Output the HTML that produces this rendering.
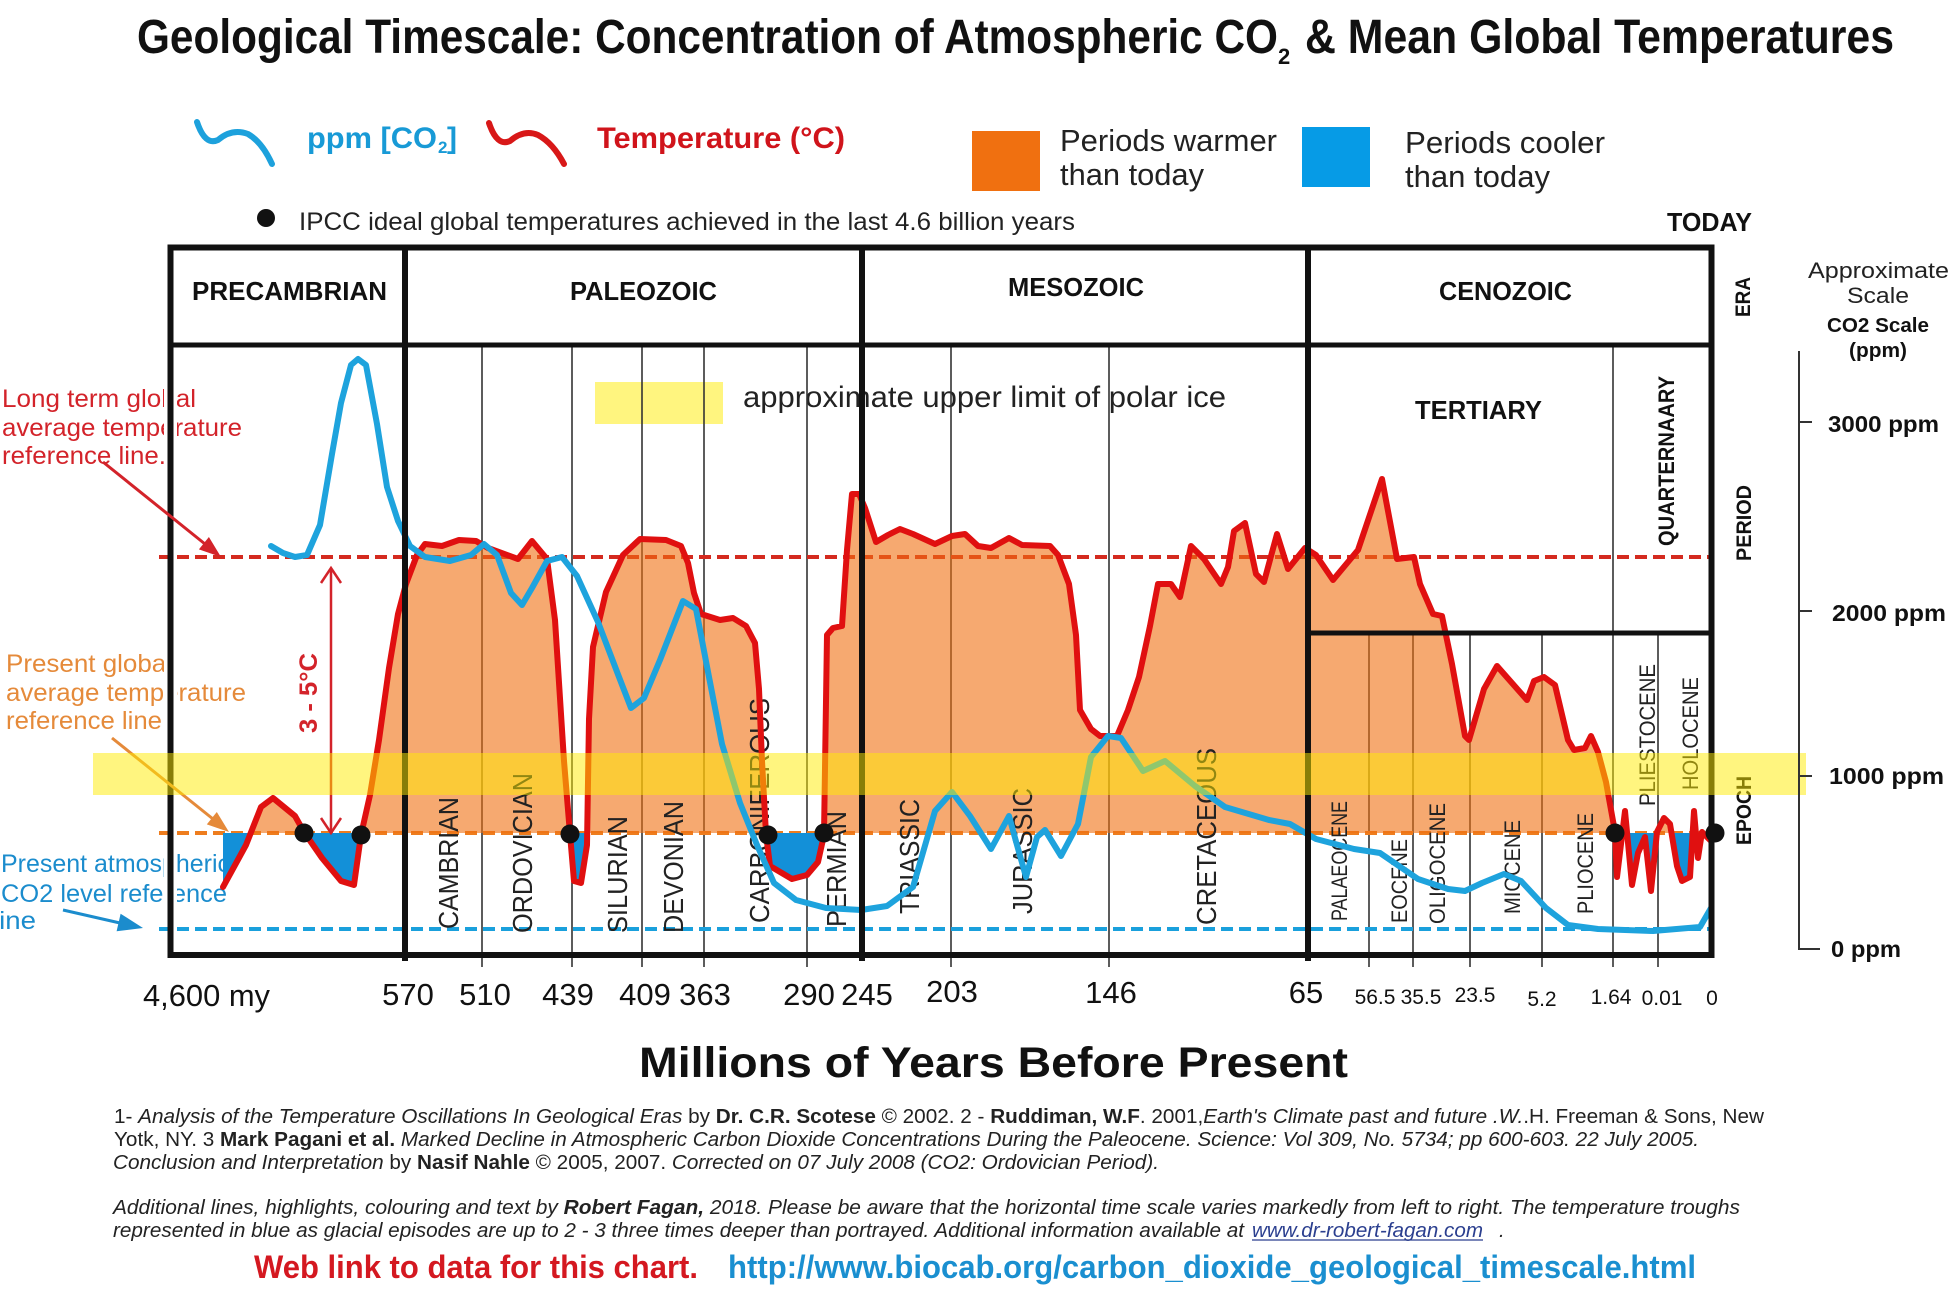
<!DOCTYPE html>
<html><head><meta charset="utf-8"><style>html,body{margin:0;padding:0;background:#fff;}svg{display:block}</style></head>
<body>
<svg width="1960" height="1294" viewBox="0 0 1960 1294" xmlns="http://www.w3.org/2000/svg" font-family="'Liberation Sans', Arial, sans-serif">
<defs>
<clipPath id="above"><rect x="0" y="0" width="1960" height="833"/></clipPath>
<clipPath id="below"><rect x="0" y="833" width="1960" height="200"/></clipPath>
</defs>
<rect width="1960" height="1294" fill="#fff"/>

<!-- Title -->
<text x="137" y="53" font-size="48" font-weight="bold" fill="#111" textLength="1141" lengthAdjust="spacingAndGlyphs">Geological Timescale: Concentration of Atmospheric CO</text>
<text x="1278" y="64" font-size="22" font-weight="bold" fill="#111">2</text>
<text x="1305" y="53" font-size="48" font-weight="bold" fill="#111" textLength="589" lengthAdjust="spacingAndGlyphs">&amp; Mean Global Temperatures</text>

<!-- Legend -->
<path d="M197,122 Q205,146 218,140 Q232,128 248,134 Q262,142 272,164" fill="none" stroke="#1da1dc" stroke-width="6" stroke-linecap="round"/>
<text x="307" y="148" font-size="30" font-weight="bold" fill="#189ad6" textLength="130" lengthAdjust="spacingAndGlyphs">ppm [CO</text>
<text x="438" y="153" font-size="17" font-weight="bold" fill="#189ad6">2</text>
<text x="447" y="148" font-size="30" font-weight="bold" fill="#189ad6">]</text>
<path d="M489,123 Q497,147 510,141 Q524,129 538,135 Q553,143 564,164" fill="none" stroke="#d81818" stroke-width="6" stroke-linecap="round"/>
<text x="597" y="148" font-size="30" font-weight="bold" fill="#d0141b" textLength="248" lengthAdjust="spacingAndGlyphs">Temperature (°C)</text>

<rect x="972" y="131" width="68" height="60" fill="#f07010"/>
<text x="1060" y="151" font-size="31" fill="#222" textLength="217" lengthAdjust="spacingAndGlyphs">Periods warmer</text>
<text x="1060" y="185" font-size="31" fill="#222" textLength="144" lengthAdjust="spacingAndGlyphs">than today</text>
<rect x="1302" y="127" width="68" height="60" fill="#069be6"/>
<text x="1405" y="153" font-size="31" fill="#222" textLength="200" lengthAdjust="spacingAndGlyphs">Periods cooler</text>
<text x="1405" y="187" font-size="31" fill="#222" textLength="145" lengthAdjust="spacingAndGlyphs">than today</text>

<circle cx="266" cy="218" r="9" fill="#111"/>
<text x="299" y="230" font-size="25" fill="#222" textLength="776" lengthAdjust="spacingAndGlyphs">IPCC ideal global temperatures achieved in the last 4.6 billion years</text>
<text x="1667" y="231" font-size="26" font-weight="bold" fill="#111" textLength="85" lengthAdjust="spacingAndGlyphs">TODAY</text>

<!-- Left annotations -->
<text x="2" y="407" font-size="25" fill="#d3232a" textLength="194" lengthAdjust="spacingAndGlyphs">Long term global</text>
<text x="2" y="436" font-size="25" fill="#d3232a" textLength="240" lengthAdjust="spacingAndGlyphs">average temperature</text>
<text x="2" y="464" font-size="25" fill="#d3232a" textLength="164" lengthAdjust="spacingAndGlyphs">reference line.</text>
<text x="6" y="672" font-size="25" fill="#e58a3a" textLength="166" lengthAdjust="spacingAndGlyphs">Present global</text>
<text x="6" y="701" font-size="25" fill="#e58a3a" textLength="240" lengthAdjust="spacingAndGlyphs">average temperature</text>
<text x="6" y="729" font-size="25" fill="#e58a3a" textLength="156" lengthAdjust="spacingAndGlyphs">reference line</text>
<text x="1" y="872" font-size="25" fill="#1b8ccd" textLength="229" lengthAdjust="spacingAndGlyphs">Present atmospheric</text>
<text x="1" y="902" font-size="25" fill="#1b8ccd" textLength="226" lengthAdjust="spacingAndGlyphs">CO2 level reference</text>
<text x="-7" y="929" font-size="25" fill="#1b8ccd" textLength="43" lengthAdjust="spacingAndGlyphs">line</text>

<!-- polar ice legend -->
<rect x="595" y="382" width="128" height="42" fill="#ffec00" opacity="0.5"/>
<text x="743" y="407" font-size="30" fill="#222" textLength="483" lengthAdjust="spacingAndGlyphs">approximate upper limit of polar ice</text>

<!-- thin grid lines -->
<g stroke="#333" stroke-width="1.6">
<line x1="482" y1="345" x2="482" y2="967"/>
<line x1="572" y1="345" x2="572" y2="967"/>
<line x1="642" y1="345" x2="642" y2="967"/>
<line x1="704" y1="345" x2="704" y2="967"/>
<line x1="807" y1="345" x2="807" y2="967"/>
<line x1="951" y1="345" x2="951" y2="967"/>
<line x1="1109" y1="345" x2="1109" y2="967"/>
<line x1="1613" y1="345" x2="1613" y2="967"/>
<line x1="1369" y1="633" x2="1369" y2="967"/>
<line x1="1413" y1="633" x2="1413" y2="967"/>
<line x1="1470" y1="633" x2="1470" y2="967"/>
<line x1="1542" y1="633" x2="1542" y2="967"/>
<line x1="1658" y1="633" x2="1658" y2="967"/>
</g>

<!-- dashed reference lines -->
<line x1="159" y1="557" x2="1709" y2="557" stroke="#d42a1f" stroke-width="4" stroke-dasharray="12 6"/>
<line x1="159" y1="833" x2="1709" y2="833" stroke="#ee7d1e" stroke-width="4" stroke-dasharray="12 6"/>
<line x1="159" y1="929" x2="1709" y2="929" stroke="#1aa0dc" stroke-width="4" stroke-dasharray="12 6"/>

<!-- fills -->
<polygon clip-path="url(#above)" fill="#f07010" fill-opacity="0.6" points="223,833 223,887 246,845 261,807 273,798 295,816 304,832 322,858 341,881 354,885 361,835 370,795 379,740 389,668 398,614 406,584 417,555 425,544 442,546 459,540 476,541 488,548 518,559 532,541 547,559 555,620 564,761 570,834 574,881 581,883 587,845 589,719 593,647 606,592 623,555 640,539 666,540 681,546 688,563 694,593 701,614 720,620 733,618 746,626 755,643 759,689 762,761 766,834 770,866 792,879 807,875 818,862 824,835 827,635 833,628 842,626 847,550 852,494 859,494 865,508 876,542 888,535 900,529 913,534 935,544 952,536 965,534 978,546 991,548 1009,538 1022,545 1050,546 1058,555 1069,584 1076,635 1080,710 1091,729 1100,736 1117,736 1128,710 1139,677 1150,626 1158,584 1171,584 1180,597 1191,546 1204,559 1221,584 1228,567 1234,531 1245,523 1256,574 1264,582 1277,534 1288,569 1305,548 1316,555 1333,580 1358,550 1382,479 1397,559 1414,557 1420,584 1433,614 1442,616 1452,664 1465,736 1469,740 1484,689 1497,666 1527,700 1534,681 1544,677 1555,685 1568,740 1574,750 1585,748 1591,736 1598,752 1606,782 1615,832 1617,877 1625,811 1632,885 1638,853 1645,837 1651,891 1657,832 1664,818 1670,824 1677,866 1682,881 1690,877 1694,811 1698,858 1702,832 1711,841 1711,833"/>
<polygon clip-path="url(#below)" fill="#1390d8" points="223,833 223,887 246,845 261,807 273,798 295,816 304,832 322,858 341,881 354,885 361,835 370,795 379,740 389,668 398,614 406,584 417,555 425,544 442,546 459,540 476,541 488,548 518,559 532,541 547,559 555,620 564,761 570,834 574,881 581,883 587,845 589,719 593,647 606,592 623,555 640,539 666,540 681,546 688,563 694,593 701,614 720,620 733,618 746,626 755,643 759,689 762,761 766,834 770,866 792,879 807,875 818,862 824,835 827,635 833,628 842,626 847,550 852,494 859,494 865,508 876,542 888,535 900,529 913,534 935,544 952,536 965,534 978,546 991,548 1009,538 1022,545 1050,546 1058,555 1069,584 1076,635 1080,710 1091,729 1100,736 1117,736 1128,710 1139,677 1150,626 1158,584 1171,584 1180,597 1191,546 1204,559 1221,584 1228,567 1234,531 1245,523 1256,574 1264,582 1277,534 1288,569 1305,548 1316,555 1333,580 1358,550 1382,479 1397,559 1414,557 1420,584 1433,614 1442,616 1452,664 1465,736 1469,740 1484,689 1497,666 1527,700 1534,681 1544,677 1555,685 1568,740 1574,750 1585,748 1591,736 1598,752 1606,782 1615,832 1617,877 1625,811 1632,885 1638,853 1645,837 1651,891 1657,832 1664,818 1670,824 1677,866 1682,881 1690,877 1694,811 1698,858 1702,832 1711,841 1711,833"/>

<!-- period labels -->
<g font-size="28" fill="#222">
<text transform="translate(458,929) rotate(-90)" textLength="132" lengthAdjust="spacingAndGlyphs">CAMBRIAN</text>
<text transform="translate(532,933) rotate(-90)" textLength="160" lengthAdjust="spacingAndGlyphs">ORDOVICIAN</text>
<text transform="translate(627,933) rotate(-90)" textLength="117" lengthAdjust="spacingAndGlyphs">SILURIAN</text>
<text transform="translate(683,933) rotate(-90)" textLength="132" lengthAdjust="spacingAndGlyphs">DEVONIAN</text>
<text transform="translate(769,923) rotate(-90)" textLength="225" lengthAdjust="spacingAndGlyphs">CARBONIFEROUS</text>
<text transform="translate(846,927) rotate(-90)" textLength="116" lengthAdjust="spacingAndGlyphs">PERMIAN</text>
<text transform="translate(919,914) rotate(-90)" textLength="115" lengthAdjust="spacingAndGlyphs">TRIASSIC</text>
<text transform="translate(1032,914) rotate(-90)" textLength="126" lengthAdjust="spacingAndGlyphs">JURASSIC</text>
<text transform="translate(1216,925) rotate(-90)" textLength="177" lengthAdjust="spacingAndGlyphs">CRETACEOUS</text>
</g>
<g font-size="22" fill="#222">
<text transform="translate(1347,921) rotate(-90)" textLength="120" lengthAdjust="spacingAndGlyphs">PALAEOCENE</text>
<text transform="translate(1407,923) rotate(-90)" textLength="84" lengthAdjust="spacingAndGlyphs">EOCENE</text>
<text transform="translate(1445,924) rotate(-90)" textLength="121" lengthAdjust="spacingAndGlyphs">OLIGOCENE</text>
<text transform="translate(1520,914) rotate(-90)" textLength="94" lengthAdjust="spacingAndGlyphs">MIOCENE</text>
<text transform="translate(1593,914) rotate(-90)" textLength="101" lengthAdjust="spacingAndGlyphs">PLIOCENE</text>
<text transform="translate(1655,806) rotate(-90)" textLength="142" lengthAdjust="spacingAndGlyphs">PLIESTOCENE</text>
<text transform="translate(1698,790) rotate(-90)" textLength="113" lengthAdjust="spacingAndGlyphs">HOLOCENE</text>
</g>

<!-- temperature curve -->
<polyline fill="none" stroke="#e01010" stroke-width="6" stroke-linejoin="round" stroke-linecap="round" points="223,887 246,845 261,807 273,798 295,816 304,832 322,858 341,881 354,885 361,835 370,795 379,740 389,668 398,614 406,584 417,555 425,544 442,546 459,540 476,541 488,548 518,559 532,541 547,559 555,620 564,761 570,834 574,881 581,883 587,845 589,719 593,647 606,592 623,555 640,539 666,540 681,546 688,563 694,593 701,614 720,620 733,618 746,626 755,643 759,689 762,761 766,834 770,866 792,879 807,875 818,862 824,835 827,635 833,628 842,626 847,550 852,494 859,494 865,508 876,542 888,535 900,529 913,534 935,544 952,536 965,534 978,546 991,548 1009,538 1022,545 1050,546 1058,555 1069,584 1076,635 1080,710 1091,729 1100,736 1117,736 1128,710 1139,677 1150,626 1158,584 1171,584 1180,597 1191,546 1204,559 1221,584 1228,567 1234,531 1245,523 1256,574 1264,582 1277,534 1288,569 1305,548 1316,555 1333,580 1358,550 1382,479 1397,559 1414,557 1420,584 1433,614 1442,616 1452,664 1465,736 1469,740 1484,689 1497,666 1527,700 1534,681 1544,677 1555,685 1568,740 1574,750 1585,748 1591,736 1598,752 1606,782 1615,832 1617,877 1625,811 1632,885 1638,853 1645,837 1651,891 1657,832 1664,818 1670,824 1677,866 1682,881 1690,877 1694,811 1698,858 1702,832 1711,841"/>

<!-- CO2 curve -->
<polyline fill="none" stroke="#1ea3dd" stroke-width="6" stroke-linejoin="round" stroke-linecap="round" points="271,546 283,553 295,557 307,555 320,525 332,454 341,403 351,365 358,359 366,365 377,424 387,487 398,521 410,546 425,557 450,561 471,555 484,544 497,555 511,593 522,605 532,588 547,561 562,557 577,576 598,622 619,677 631,708 644,698 660,660 683,601 696,609 709,677 722,744 740,803 757,845 774,883 796,900 826,908 861,910 887,906 913,887 935,811 952,792 970,816 991,849 1009,816 1017,845 1026,877 1037,837 1045,830 1061,856 1078,824 1091,757 1108,736 1121,738 1143,771 1165,761 1195,786 1225,807 1269,820 1290,824 1316,839 1354,849 1380,853 1418,879 1448,889 1465,891 1482,883 1504,874 1521,881 1546,908 1568,925 1598,929 1653,931 1700,927 1711,908"/>

<!-- white halos for left border -->
<rect x="164" y="385" width="13" height="85" fill="#fff"/>
<rect x="164" y="650" width="13" height="85" fill="#fff"/>
<rect x="164" y="850" width="13" height="70" fill="#fff"/>

<!-- table structure -->
<rect x="170.5" y="247.5" width="1541" height="707.5" fill="none" stroke="#111" stroke-width="6"/>
<line x1="170" y1="345" x2="1712" y2="345" stroke="#111" stroke-width="5"/>
<line x1="1308" y1="633" x2="1712" y2="633" stroke="#111" stroke-width="5"/>
<line x1="405" y1="247" x2="405" y2="961" stroke="#111" stroke-width="6"/>
<line x1="862" y1="247" x2="862" y2="961" stroke="#111" stroke-width="6"/>
<line x1="1308" y1="247" x2="1308" y2="961" stroke="#111" stroke-width="6"/>

<!-- Era labels -->
<g font-size="26" font-weight="bold" fill="#111">
<text x="192" y="300" textLength="195" lengthAdjust="spacingAndGlyphs">PRECAMBRIAN</text>
<text x="570" y="300" textLength="147" lengthAdjust="spacingAndGlyphs">PALEOZOIC</text>
<text x="1008" y="296" textLength="136" lengthAdjust="spacingAndGlyphs">MESOZOIC</text>
<text x="1439" y="300" textLength="133" lengthAdjust="spacingAndGlyphs">CENOZOIC</text>
<text x="1415" y="419" textLength="127" lengthAdjust="spacingAndGlyphs">TERTIARY</text>
</g>
<text transform="translate(1674,546) rotate(-90)" font-size="22" font-weight="bold" fill="#111" textLength="170" lengthAdjust="spacingAndGlyphs">QUARTERNAARY</text>
<g font-size="21" font-weight="bold" fill="#111">
<text transform="translate(1750,317) rotate(-90)" textLength="40" lengthAdjust="spacingAndGlyphs">ERA</text>
<text transform="translate(1751,561) rotate(-90)" textLength="76" lengthAdjust="spacingAndGlyphs">PERIOD</text>
<text transform="translate(1751,845) rotate(-90)" textLength="69" lengthAdjust="spacingAndGlyphs">EPOCH</text>
</g>

<!-- arrows -->
<line x1="103" y1="462" x2="205" y2="544" stroke="#d3232a" stroke-width="3"/>
<polygon points="221,557 198.9,549.4 208.9,537.0" fill="#d3232a"/>
<line x1="112" y1="738" x2="213" y2="819" stroke="#e58a3a" stroke-width="3"/>
<polygon points="229,832 206.8,824.4 216.8,812.0" fill="#e58a3a"/>
<line x1="63" y1="910" x2="120" y2="923" stroke="#1b8ccd" stroke-width="3"/>
<polygon points="143,928 116.6,931.3 120.6,913.7" fill="#1b8ccd"/>

<!-- 3-5 C -->
<line x1="331" y1="568" x2="331" y2="833" stroke="#d3232a" stroke-width="2.5"/>
<path d="M321,583 L331,568 L341,583 M321,818 L331,833 L341,818" fill="none" stroke="#d3232a" stroke-width="2.5"/>
<text transform="translate(317,733) rotate(-90)" font-size="25" font-weight="bold" fill="#d3232a" textLength="80" lengthAdjust="spacingAndGlyphs">3 - 5°C</text>

<!-- yellow band -->
<rect x="93" y="753" width="1713" height="42" fill="#ffec00" opacity="0.5"/>

<!-- dots -->
<g fill="#111">
<circle cx="304" cy="833" r="9.5"/>
<circle cx="361" cy="835" r="9.5"/>
<circle cx="570" cy="834" r="9.5"/>
<circle cx="768" cy="835" r="9.5"/>
<circle cx="824" cy="833" r="9.5"/>
<circle cx="1615" cy="833" r="9.5"/>
<circle cx="1715" cy="833" r="9.5"/>
</g>

<!-- right scale -->
<path d="M1799,351 L1799,949 L1820,949 M1799,422 h13 M1799,611 h13 M1799,776 h13" fill="none" stroke="#333" stroke-width="2"/>
<text x="1808" y="278" font-size="22" fill="#222" textLength="141" lengthAdjust="spacingAndGlyphs">Approximate</text>
<text x="1847" y="303" font-size="22" fill="#222" textLength="62" lengthAdjust="spacingAndGlyphs">Scale</text>
<text x="1827" y="332" font-size="20" font-weight="bold" fill="#111" textLength="102" lengthAdjust="spacingAndGlyphs">CO2 Scale</text>
<text x="1849" y="357" font-size="20" font-weight="bold" fill="#111" textLength="58" lengthAdjust="spacingAndGlyphs">(ppm)</text>
<g font-size="23" font-weight="bold" fill="#111">
<text x="1828" y="432" textLength="111" lengthAdjust="spacingAndGlyphs">3000 ppm</text>
<text x="1832" y="621" textLength="114" lengthAdjust="spacingAndGlyphs">2000 ppm</text>
<text x="1829" y="784" textLength="115" lengthAdjust="spacingAndGlyphs">1000 ppm</text>
<text x="1831" y="957" textLength="70" lengthAdjust="spacingAndGlyphs">0 ppm</text>
</g>

<!-- bottom axis labels -->
<g font-size="31" fill="#111" text-anchor="middle">
<text x="408" y="1005">570</text>
<text x="485" y="1005">510</text>
<text x="568" y="1005">439</text>
<text x="645" y="1005">409</text>
<text x="705" y="1005">363</text>
<text x="809" y="1005">290</text>
<text x="867" y="1005">245</text>
<text x="952" y="1002">203</text>
<text x="1111" y="1003">146</text>
<text x="1306" y="1003">65</text>
</g>
<text x="143" y="1006" font-size="31" fill="#111" textLength="127" lengthAdjust="spacingAndGlyphs">4,600 my</text>
<g font-size="21" fill="#111" text-anchor="middle">
<text x="1375" y="1004">56.5</text>
<text x="1421" y="1004">35.5</text>
<text x="1475" y="1002">23.5</text>
<text x="1542" y="1006">5.2</text>
<text x="1611" y="1004">1.64</text>
<text x="1662" y="1005">0.01</text>
<text x="1712" y="1005">0</text>
</g>
<text x="639" y="1077" font-size="43" font-weight="bold" fill="#111" textLength="709" lengthAdjust="spacingAndGlyphs">Millions of Years Before Present</text>

<!-- footnotes -->
<g font-size="20" fill="#222">
<text x="114" y="1123" textLength="1650" lengthAdjust="spacingAndGlyphs">1- <tspan font-style="italic">Analysis of the Temperature Oscillations In Geological Eras</tspan> by <tspan font-weight="bold">Dr. C.R. Scotese</tspan> © 2002. 2 - <tspan font-weight="bold">Ruddiman, W.F</tspan>. 2001,<tspan font-style="italic">Earth's Climate past and future .W.</tspan>.H. Freeman &amp; Sons, New</text>
<text x="114" y="1146" textLength="1585" lengthAdjust="spacingAndGlyphs">Yotk, NY. 3 <tspan font-weight="bold">Mark Pagani et al.</tspan> <tspan font-style="italic">Marked Decline in Atmospheric Carbon Dioxide Concentrations During the Paleocene. Science: Vol 309, No. 5734; pp 600-603. 22 July 2005.</tspan></text>
<text x="113" y="1169" textLength="1046" lengthAdjust="spacingAndGlyphs"><tspan font-style="italic">Conclusion and Interpretation</tspan> by <tspan font-weight="bold">Nasif Nahle</tspan> © 2005, 2007. <tspan font-style="italic">Corrected on 07 July 2008 (CO2: Ordovician Period).</tspan></text>
<text x="113" y="1214" font-style="italic" textLength="1627" lengthAdjust="spacingAndGlyphs">Additional lines, highlights, colouring and text by <tspan font-weight="bold">Robert Fagan,</tspan> 2018.  Please be aware that the horizontal time scale varies markedly from left to right.  The temperature troughs</text>
<text x="113" y="1237" font-style="italic" textLength="1131" lengthAdjust="spacingAndGlyphs">represented in blue as glacial episodes are up to 2 - 3 three times deeper than portrayed. Additional information available at</text>
<text x="1252" y="1237" font-style="italic" fill="#2b3f8f" textLength="231" lengthAdjust="spacingAndGlyphs">www.dr-robert-fagan.com</text>
<line x1="1252" y1="1240" x2="1483" y2="1240" stroke="#2b3f8f" stroke-width="1.2"/>
<text x="1499" y="1237" font-style="italic">.</text>
</g>
<text x="254" y="1278" font-size="32" font-weight="bold" fill="#d41820" textLength="444" lengthAdjust="spacingAndGlyphs">Web link to data for this chart.</text>
<text x="728" y="1278" font-size="32" font-weight="bold" fill="#1a8fd0" textLength="968" lengthAdjust="spacingAndGlyphs">http://www.biocab.org/carbon_dioxide_geological_timescale.html</text>
</svg>
</body></html>
